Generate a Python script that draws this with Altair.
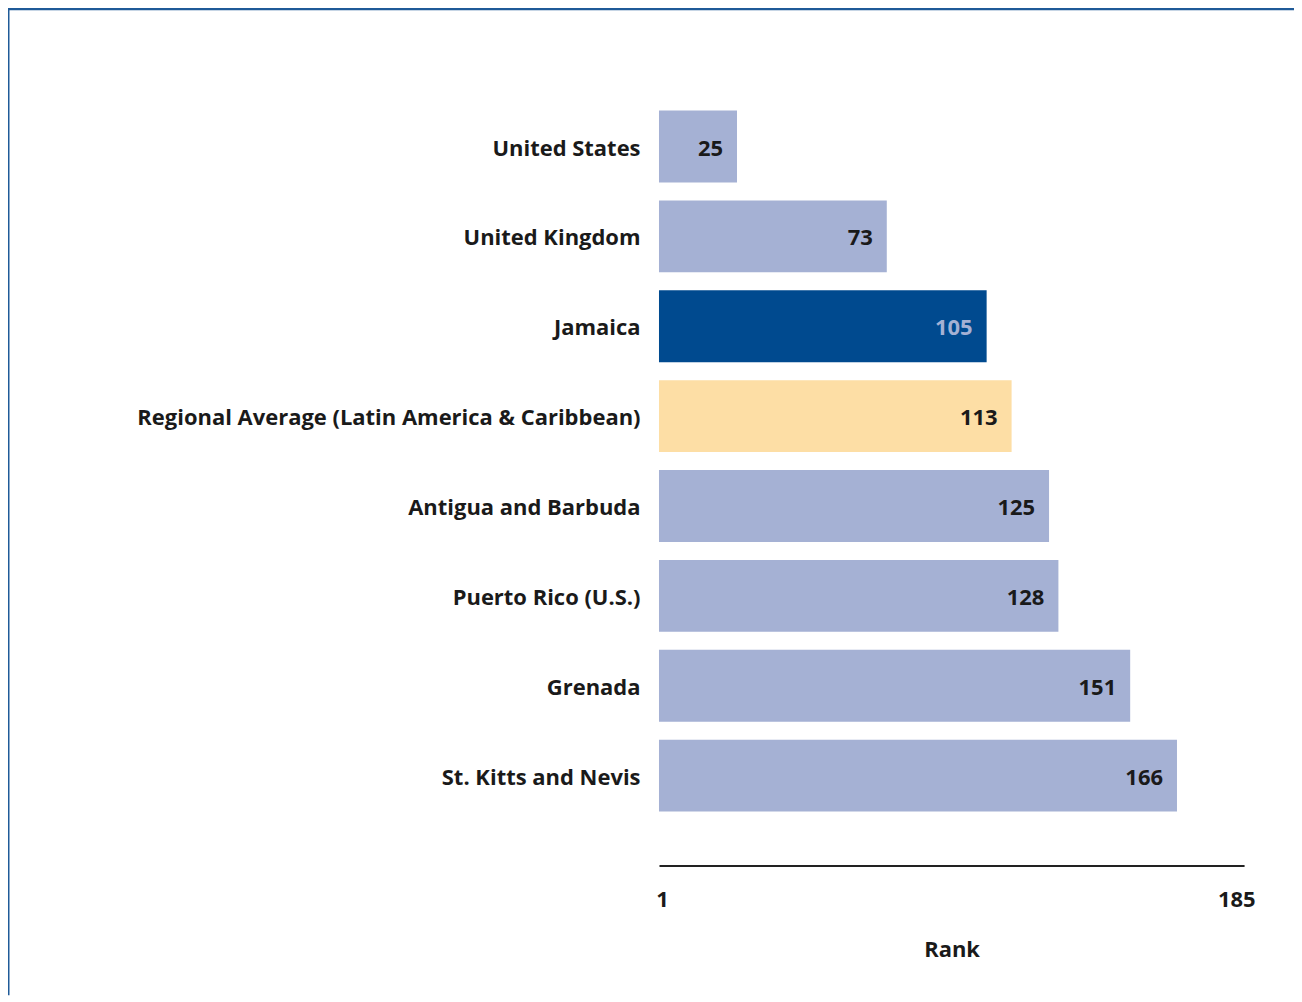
import altair as alt
import pandas as pd

countries = ["United States", "United Kingdom", "Jamaica",
             "Regional Average (Latin America & Caribbean)",
             "Antigua and Barbuda", "Puerto Rico (U.S.)", "Grenada",
             "St. Kitts and Nevis"]
ranks = [25, 73, 105, 113, 125, 128, 151, 166]
kinds = ["peer", "peer", "focus", "regional", "peer", "peer", "peer", "peer"]
tick_values = [1, 185]

FONT = "Open Sans"
FS = 22
df = pd.DataFrame({"country": countries, "rank": ranks, "kind": kinds})

W, H = 586, 810
PAD = {"left": 652, "top": 48, "right": 50, "bottom": 130}

x = alt.X("rank:Q", scale=alt.Scale(domain=[0, 187.5], nice=False, zero=True),
          axis=alt.Axis(values=tick_values, title="Rank", grid=False, ticks=False,
                        domainColor="#222222", domainWidth=2,
                        labelFont=FONT, labelFontSize=FS, labelFontWeight="bold",
                        labelColor="#1a1a1a", labelPadding=24, labelFlush=False,
                        titleFont=FONT, titleFontSize=FS, titleFontWeight="bold",
                        titleColor="#1a1a1a", titlePadding=29))
y = alt.Y("country:N", sort=countries,
          scale=alt.Scale(paddingInner=0.2, paddingOuter=0.6),
          axis=alt.Axis(title=None, ticks=False, domain=False,
                        labelFont=FONT, labelFontSize=FS, labelFontWeight="bold",
                        labelColor="#1a1a1a", labelPadding=19, labelLimit=700,
                        labelOffset=2))

bars = alt.Chart(df).mark_bar(cornerRadius=0).encode(
    x=x, y=y,
    color=alt.Color("kind:N", legend=None,
                    scale=alt.Scale(domain=["peer", "focus", "regional"],
                                    range=["#a5b1d4", "#004a8f", "#fddea5"])),
)

labels = alt.Chart(df).mark_text(align="right", baseline="middle", dx=-14, dy=2,
                                 font=FONT, fontSize=FS, fontWeight="bold").encode(
    x="rank:Q", y=alt.Y("country:N", sort=countries),
    text="rank:Q",
    color=alt.condition(alt.datum.kind == "focus", alt.value("#a5b1d4"), alt.value("#1a1a1a")),
)

frame_df = pd.DataFrame({"a": [0]})
top_line = alt.Chart(frame_df).mark_rule(color="#1f5a98", strokeWidth=3).encode(
    x=alt.value(-PAD["left"]), x2=alt.value(W + PAD["right"]),
    y=alt.value(-PAD["top"]))
left_line = alt.Chart(frame_df).mark_rule(color="#1f5a98", strokeWidth=3).encode(
    x=alt.value(-PAD["left"]), y=alt.value(-PAD["top"]),
    y2=alt.value(H + PAD["bottom"]))

chart = alt.layer(bars, labels, top_line, left_line).properties(
    width=W, height=H,
    autosize=alt.AutoSizeParams(type="none"),
    padding=PAD,
).configure_view(stroke=None)

chart.save("out.html", embed_options={"renderer": "svg", "actions": False})
